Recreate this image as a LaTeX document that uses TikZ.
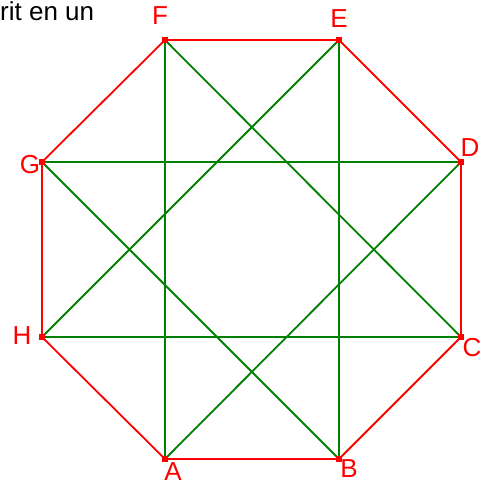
\documentclass[tikz,border=0pt]{standalone}
\usepackage{fontspec}
\setmainfont{Liberation Sans}
\usepackage{tikz}
\usetikzlibrary{positioning}
\definecolor{sidecol}{HTML}{ff0000}
\definecolor{diagcol}{HTML}{008000}

\begin{document}
\begin{tikzpicture}[x=1pt, y=-1pt,
  vertex/.style={rectangle, fill=sidecol, inner sep=0pt, minimum size=5pt},
  lbl/.style={sidecol, inner sep=0pt, font=\fontsize{26}{30}\selectfont},
  side/.style={sidecol, line width=1.8pt},
  diag/.style={diagcol, line width=1.8pt}]
\useasboundingbox (0,0) rectangle (487,485);

\node[anchor=base west, inner sep=0pt, font=\fontsize{26}{30}\selectfont] (title) at (0,20) {rit en un};

% sommets de l'octogone
\node[vertex] (A) at (165,459) {};
\node[vertex] (B) at (339,459) {};
\node[vertex] (C) at (461,337) {};
\node[vertex] (D) at (461,162) {};
\node[vertex] (E) at (339,40) {};
\node[vertex] (F) at (165,40) {};
\node[vertex] (G) at (42,162) {};
\node[vertex] (H) at (42,337) {};

% diagonales
\draw[diag] (A.center) -- (F.center);
\draw[diag] (B.center) -- (E.center);
\draw[diag] (G.center) -- (D.center);
\draw[diag] (H.center) -- (C.center);
\draw[diag] (F.center) -- (C.center);
\draw[diag] (G.center) -- (B.center);
\draw[diag] (H.center) -- (E.center);
\draw[diag] (A.center) -- (D.center);

% cotes
\draw[side] (A.center) -- (B.center) -- (C.center) -- (D.center) -- (E.center)
  -- (F.center) -- (G.center) -- (H.center) -- cycle;

\foreach \v in {A,B,C,D,E,F,G,H}
  \fill[sidecol] (\v.south west) rectangle (\v.north east);

% noms des sommets
\node[lbl] (lA) at (173,472) {A};
\node[lbl] (lB) at (349,469) {B};
\node[lbl] (lC) at (472,348) {C};
\node[lbl] (lD) at (470,148) {D};
\node[lbl] (lE) at (339,19) {E};
\node[lbl] (lF) at (160,16) {F};
\node[lbl] (lG) at (30,165) {G};
\node[lbl] (lH) at (22,336) {H};
\end{tikzpicture}
\end{document}
